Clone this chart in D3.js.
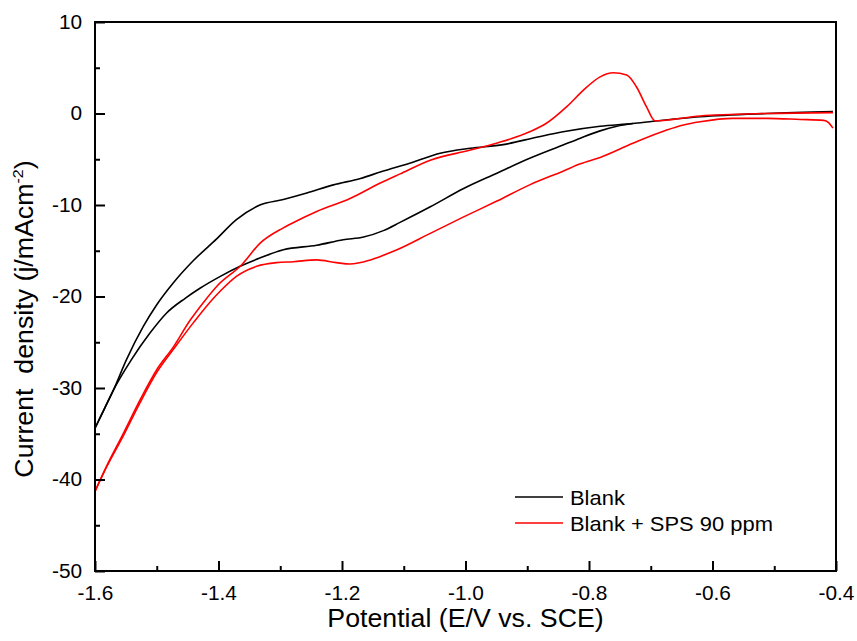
<!DOCTYPE html>
<html>
<head>
<meta charset="utf-8">
<script src="https://cdn.jsdelivr.net/npm/d3@7"></script>
<style>
  body { margin: 0; background: #fff; }
  text { font-family: "Liberation Sans", Arial, sans-serif; fill: #000; }
</style>
</head>
<body>
<div id="chart"></div>
<script>
// Blank, forward branch (upper, less negative)
var blackUpperE = [-1.6, -1.585, -1.570, -1.549, -1.522, -1.500, -1.473, -1.441, -1.403, -1.371, -1.333, -1.295, -1.257, -1.214, -1.170, -1.138, -1.084, -1.041, -0.992, -0.939, -0.885, -0.842, -0.782, -0.729, -0.696, -0.620, -0.512, -0.405];
var blackUpperJ = [-34.4, -32.3, -30.2, -26.9, -23.3, -20.9, -18.5, -16.1, -13.7, -11.6, -10.0, -9.4, -8.7, -7.8, -7.1, -6.4, -5.3, -4.35, -3.8, -3.4, -2.6, -2.0, -1.4, -1.1, -0.85, -0.35, 0.0, 0.2];
// Blank, reverse branch (lower)
var blackLowerE = [-1.6, -1.585, -1.570, -1.541, -1.511, -1.484, -1.454, -1.430, -1.397, -1.365, -1.333, -1.295, -1.241, -1.198, -1.165, -1.133, -1.106, -1.057, -1.003, -0.950, -0.896, -0.842, -0.814, -0.782, -0.755, -0.729];
var blackLowerJ = [-34.4, -32.3, -30.2, -26.9, -24.0, -21.8, -20.2, -19.1, -17.8, -16.7, -15.8, -14.9, -14.4, -13.8, -13.5, -12.8, -11.9, -10.2, -8.2, -6.55, -4.9, -3.45, -2.7, -1.9, -1.4, -1.1];
// Blank + SPS 90 ppm, branch with the oxidation peak
var redUpperE = [-1.6, -1.581, -1.554, -1.527, -1.500, -1.473, -1.446, -1.425, -1.403, -1.362, -1.333, -1.295, -1.284, -1.241, -1.187, -1.138, -1.106, -1.057, -0.992, -0.950, -0.896, -0.869, -0.836, -0.809, -0.782, -0.761, -0.739, -0.723, -0.707, -0.693, -0.620, -0.512, -0.405];
var redUpperJ = [-41.3, -38.5, -34.95, -31.3, -28.0, -25.5, -22.6, -20.7, -18.9, -16.5, -14.2, -12.5, -12.1, -10.7, -9.3, -7.6, -6.6, -5.1, -4.0, -3.25, -2.0, -1.07, 0.75, 2.55, 4.0, 4.45, 4.2, 2.9, 0.75, -0.8, -0.27, 0.0, 0.1];
// Blank + SPS 90 ppm, lower branch
var redLowerE = [-1.6, -1.581, -1.554, -1.527, -1.500, -1.470, -1.440, -1.411, -1.397, -1.371, -1.338, -1.306, -1.279, -1.241, -1.209, -1.187, -1.154, -1.133, -1.111, -1.057, -1.003, -0.950, -0.896, -0.842, -0.814, -0.782, -0.729, -0.674, -0.647, -0.620, -0.567, -0.512, -0.458, -0.420, -0.412, -0.405];
var redLowerJ = [-41.3, -38.6, -35.2, -31.6, -28.3, -25.5, -22.8, -20.4, -19.4, -17.8, -16.7, -16.3, -16.2, -16.0, -16.3, -16.45, -16.0, -15.5, -14.9, -13.1, -11.3, -9.6, -7.8, -6.3, -5.5, -4.8, -3.25, -1.8, -1.25, -0.9, -0.53, -0.53, -0.65, -0.75, -1.0, -1.6];

var xTicks = [-1.6, -1.4, -1.2, -1.0, -0.8, -0.6, -0.4];
var xTickLabels = ["-1.6", "-1.4", "-1.2", "-1.0", "-0.8", "-0.6", "-0.4"];
var xMinor = [-1.5, -1.3, -1.1, -0.9, -0.7, -0.5];
var yTicks = [10, 0, -10, -20, -30, -40, -50];
var yTickLabels = ["10", "0", "-10", "-20", "-30", "-40", "-50"];
var yMinor = [5, -5, -15, -25, -35, -45];

var seriesNames = ["Blank", "Blank + SPS 90 ppm"];
var seriesColors = ["#000000", "#ff0000"];

function init(){
    var w = 857, h = 641;
    var left = 95, right = 836, top = 22, bottom = 571;

    var svg = d3.select("#chart").append("svg")
                .attr("width", w)
                .attr("height", h);

    var x = d3.scaleLinear().domain([-1.6, -0.4]).range([left, right]);
    var y = d3.scaleLinear().domain([-50, 10]).range([bottom, top]);

    var line = d3.line()
                 .x(function(d){ return x(d[0]); })
                 .y(function(d){ return y(d[1]); })
                 .curve(d3.curveMonotoneX);

    function pairs(es, js){ return es.map(function(e, i){ return [e, js[i]]; }); }

    var curves = [
        {pts: pairs(blackLowerE, blackLowerJ), c: 0},
        {pts: pairs(blackUpperE, blackUpperJ), c: 0},
        {pts: pairs(redLowerE, redLowerJ), c: 1},
        {pts: pairs(redUpperE, redUpperJ), c: 1}
    ];

    svg.append("clipPath").attr("id", "clip")
       .append("rect").attr("x", left).attr("y", top)
       .attr("width", right - left).attr("height", bottom - top);

    svg.append("g").selectAll("path")
        .data(curves)
        .enter()
        .append("path")
        .attr("clip-path", "url(#clip)")
        .attr("d", function(d){ return line(d.pts); })
        .attr("fill", "none")
        .attr("stroke", function(d){ return seriesColors[d.c]; })
        .attr("stroke-width", 1.6);

    // axes, ticks pointing inward
    var xAxis = d3.axisBottom(x).tickValues(xTicks)
                  .tickFormat(function(d, i){ return xTickLabels[i]; })
                  .tickSizeInner(-10).tickSizeOuter(0).tickPadding(15);
    var xAxisMinor = d3.axisBottom(x).tickValues(xMinor)
                  .tickFormat("").tickSizeInner(-5).tickSizeOuter(0);
    var yAxis = d3.axisLeft(y).tickValues(yTicks)
                  .tickFormat(function(d, i){ return yTickLabels[i]; })
                  .tickSizeInner(-10).tickSizeOuter(0).tickPadding(12);
    var yAxisMinor = d3.axisLeft(y).tickValues(yMinor)
                  .tickFormat("").tickSizeInner(-5).tickSizeOuter(0);

    [xAxis, xAxisMinor].forEach(function(a){
        svg.append("g").attr("transform", "translate(0," + bottom + ")").call(a);
    });
    [yAxis, yAxisMinor].forEach(function(a){
        svg.append("g").attr("transform", "translate(" + left + ",0)").call(a);
    });
    svg.selectAll(".tick line").attr("stroke", "#000").attr("stroke-width", 2);
    svg.selectAll(".domain").remove();
    svg.selectAll(".tick text").attr("font-size", 19.5)
       .attr("transform", "scale(1.07,1)")
       .style("font-family", "'Liberation Sans', Arial, sans-serif");

    svg.append("rect")
       .attr("x", left).attr("y", top)
       .attr("width", right - left).attr("height", bottom - top)
       .attr("fill", "none").attr("stroke", "#000").attr("stroke-width", 2);

    // axis titles (original type is slightly wide)
    svg.append("text")
       .attr("transform", "translate(" + ((left + right) / 2) + ",627) scale(1.07,1)")
       .attr("text-anchor", "middle").attr("font-size", 25)
       .text("Potential (E/V vs. SCE)");

    var yt = svg.append("text")
       .attr("transform", "translate(33,319) rotate(-90) scale(1.07,1)")
       .attr("text-anchor", "middle").attr("font-size", 25)
       .style("white-space", "pre");
    yt.append("tspan").text("Current  density (j/mAcm");
    yt.append("tspan").attr("font-size", 15).attr("dy", -10).text("-2");
    yt.append("tspan").attr("dy", 10).text(")");

    // legend
    var legend = svg.append("g").selectAll("g")
        .data(seriesNames)
        .enter()
        .append("g")
        .attr("transform", function(d, i){ return "translate(515," + (497 + i * 26) + ")"; });
    legend.append("line")
        .attr("x1", 0).attr("x2", 48).attr("y1", 0).attr("y2", 0)
        .attr("stroke", function(d, i){ return seriesColors[i]; })
        .attr("stroke-width", 1.6);
    legend.append("text")
        .attr("transform", "translate(55,8) scale(1.07,1)")
        .attr("font-size", 20.5)
        .text(function(d){ return d; });
}
window.onload = init;
</script>
</body>
</html>
